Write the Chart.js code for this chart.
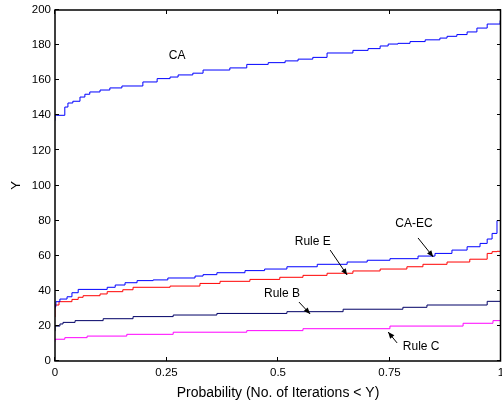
<!DOCTYPE html>
<html>
<head>
<meta charset="utf-8">
<script src="https://cdn.jsdelivr.net/npm/chart.js@4/dist/chart.umd.min.js"></script>
<style>
    html, body { margin: 0; padding: 0; background: #fff; }
    #wrap { width: 502px; height: 403px; }
</style>
</head>
<body>
<div id="wrap"><canvas id="cdf"></canvas></div>
<script>
// tick values
const xTicks = [0, 0.25, 0.5, 0.75, 1];
const yTicks = [0, 20, 40, 60, 80, 100, 120, 140, 160, 180, 200];

// CA
const caProb = [0, 0.004, 0.022, 0.029, 0.04, 0.056, 0.067, 0.078, 0.101, 0.123, 0.15, 0.197, 0.229, 0.258, 0.276, 0.309, 0.332, 0.392, 0.43, 0.478, 0.516, 0.545, 0.578, 0.61, 0.668, 0.702, 0.729, 0.747, 0.769, 0.796, 0.83, 0.863, 0.879, 0.901, 0.924, 0.946, 0.969, 0.975, 0.998, 1];
const caVal = [137, 140, 140, 144.7, 147, 148, 150.4, 152, 153.3, 154.4, 155.6, 156.7, 159, 160.9, 161.8, 163, 164, 165.8, 167, 169, 170, 171, 172, 173, 175.5, 177, 178, 179.5, 180.6, 181, 182, 183, 184, 185, 186, 187.5, 189.7, 192, 192, 194];

// CA-EC
const caecProb = [0, 0.002, 0.011, 0.027, 0.038, 0.052, 0.117, 0.135, 0.157, 0.184, 0.22, 0.253, 0.314, 0.332, 0.363, 0.426, 0.47, 0.52, 0.588, 0.655, 0.7, 0.751, 0.814, 0.852, 0.89, 0.924, 0.953, 0.969, 0.98, 0.991, 1];
const caecVal = [30, 31, 33.8, 35.3, 36.6, 38.9, 40.8, 42, 43.3, 44.6, 45.8, 46.2, 47.3, 48.4, 49.2, 50.3, 51.5, 52.4, 53.7, 55.1, 56.4, 57.4, 58.3, 59.8, 61.3, 63.2, 65.1, 67, 69.5, 72.7, 80];

// Rule E
const ruleEProb = [0, 0.009, 0.038, 0.052, 0.063, 0.101, 0.117, 0.152, 0.175, 0.258, 0.325, 0.37, 0.437, 0.504, 0.556, 0.61, 0.668, 0.729, 0.789, 0.825, 0.879, 0.93, 0.969, 0.98, 0.991, 1];
const ruleEVal = [25, 31.9, 33.8, 35.1, 36.3, 37.2, 38.2, 39.5, 40.6, 42, 42.7, 44.2, 45.4, 46.5, 47.7, 48.8, 50, 51.3, 52.4, 53.7, 55.1, 56.4, 58, 61.3, 62.3, 62.5];

// Rule B
const ruleBProb = [0, 0.011, 0.018, 0.045, 0.108, 0.175, 0.265, 0.363, 0.52, 0.646, 0.78, 0.834, 0.969, 1];
const ruleBVal = [17, 19.9, 21.1, 22, 23, 24.1, 25.3, 26.2, 27.1, 28.1, 29.5, 30.6, 31.9, 34];

// Rule C
const ruleCProb = [0, 0.022, 0.072, 0.161, 0.265, 0.43, 0.556, 0.751, 0.915, 0.982, 1];
const ruleCVal = [11, 12.4, 13.3, 14.2, 15.2, 16.4, 17.3, 18.4, 19.9, 21.5, 23];

// annotation text (data coords) and arrows [fromX, fromY, toX, toY]
const labelText = ['CA', 'CA-EC', 'Rule E', 'Rule B', 'Rule C'];
const labelPos = [[0.274, 173.8], [0.805, 78.1], [0.578, 67.8], [0.509, 38.2], [0.821, 8.0]];
const arrows = [null, [0.814, 70.1, 0.848, 59.3], [0.617, 63.2, 0.655, 49.0], [0.547, 33.6, 0.572, 26.8], [0.767, 10.3, 0.747, 16.5]];

const FONT = '"Liberation Sans", Arial, Helvetica, sans-serif';

function pts(xs, ys) {
    return xs.map((x, i) => ({x: x, y: ys[i]}));
}

// box, inward ticks and annotations
const matlabFrame = {
    id: 'matlabFrame',
    afterDatasetsDraw(chart) {
        const ctx = chart.ctx;
        const a = chart.chartArea;
        const xs = chart.scales.x, ys = chart.scales.y;
        ctx.save();
        ctx.strokeStyle = '#000';
        ctx.lineWidth = 1;
        ctx.beginPath();
        xTicks.forEach(v => {
            const px = Math.round(xs.getPixelForValue(v)) - 0.5;
            ctx.moveTo(px, a.bottom); ctx.lineTo(px, a.bottom - 4);
            ctx.moveTo(px, a.top); ctx.lineTo(px, a.top + 4);
        });
        yTicks.forEach(v => {
            const py = Math.round(ys.getPixelForValue(v)) - 0.5;
            ctx.moveTo(a.left, py); ctx.lineTo(a.left + 4, py);
            ctx.moveTo(a.right, py); ctx.lineTo(a.right - 4, py);
        });
        ctx.stroke();
        ctx.lineWidth = 1.5;
        ctx.strokeRect(a.left, a.top, a.right - a.left - 0.5, a.bottom - a.top);
        ctx.lineWidth = 1;

        // labels
        ctx.fillStyle = '#000';
        ctx.font = '12px ' + FONT;
        ctx.textAlign = 'center';
        ctx.textBaseline = 'middle';
        labelText.forEach((t, i) => {
            ctx.fillText(t, xs.getPixelForValue(labelPos[i][0]), ys.getPixelForValue(labelPos[i][1]));
        });

        // arrows
        arrows.forEach(ar => {
            if (!ar) return;
            const x1 = xs.getPixelForValue(ar[0]), y1 = ys.getPixelForValue(ar[1]);
            const x2 = xs.getPixelForValue(ar[2]), y2 = ys.getPixelForValue(ar[3]);
            const ang = Math.atan2(y2 - y1, x2 - x1);
            ctx.beginPath();
            ctx.moveTo(x1, y1);
            ctx.lineTo(x2, y2);
            ctx.stroke();
            ctx.beginPath();
            ctx.moveTo(x2, y2);
            ctx.lineTo(x2 - 7 * Math.cos(ang - 0.4), y2 - 7 * Math.sin(ang - 0.4));
            ctx.lineTo(x2 - 7 * Math.cos(ang + 0.4), y2 - 7 * Math.sin(ang + 0.4));
            ctx.closePath();
            ctx.fill();
        });
        ctx.restore();
    }
};

function series(label, xs, ys, color) {
    return {
        label: label,
        data: pts(xs, ys),
        borderColor: color,
        borderWidth: 1,
        pointRadius: 0,
        stepped: 'after',
        fill: false
    };
}

new Chart(document.getElementById('cdf'), {
    type: 'line',
    data: {
        datasets: [
            series('CA', caProb, caVal, '#0000ff'),
            series('CA-EC', caecProb, caecVal, '#0000ff'),
            series('Rule E', ruleEProb, ruleEVal, '#ff0000'),
            series('Rule B', ruleBProb, ruleBVal, '#000066'),
            series('Rule C', ruleCProb, ruleCVal, '#ff00ff')
        ]
    },
    options: {
        responsive: true,
        maintainAspectRatio: false,
        animation: false,
        layout: { padding: { top: 10, right: 1, left: 0, bottom: 0 } },
        plugins: { legend: { display: false }, tooltip: { enabled: false } },
        scales: {
            x: {
                type: 'linear',
                min: 0, max: 1,
                afterFit(scale) {
                    scale.height = 42;
                    scale.paddingLeft = 0;
                    scale.paddingRight = 0;
                },
                afterBuildTicks(scale) { scale.ticks = xTicks.map(v => ({value: v})); },
                grid: { display: false, drawTicks: false },
                border: { display: false },
                ticks: {
                    color: '#000', padding: 5, maxRotation: 0,
                    font: { family: FONT, size: 11.5 },
                    callback: v => String(v)
                },
                title: {
                    display: true,
                    text: 'Probability (No. of Iterations < Y)',
                    color: '#000',
                    font: { family: FONT, size: 14 },
                    padding: { top: 0, bottom: 1 }
                }
            },
            y: {
                min: 0, max: 200,
                afterFit(scale) {
                    scale.width = 55;
                    scale.paddingTop = 0;
                    scale.paddingBottom = 0;
                },
                afterBuildTicks(scale) { scale.ticks = yTicks.map(v => ({value: v})); },
                grid: { display: false, drawTicks: false },
                border: { display: false },
                ticks: {
                    color: '#000', padding: 4,
                    font: { family: FONT, size: 11.5 }
                },
                title: {
                    display: true,
                    text: 'Y',
                    color: '#000',
                    font: { family: FONT, size: 13 },
                    padding: { top: 9, bottom: 0 }
                }
            }
        }
    },
    plugins: [matlabFrame]
});
</script>
</body>
</html>
